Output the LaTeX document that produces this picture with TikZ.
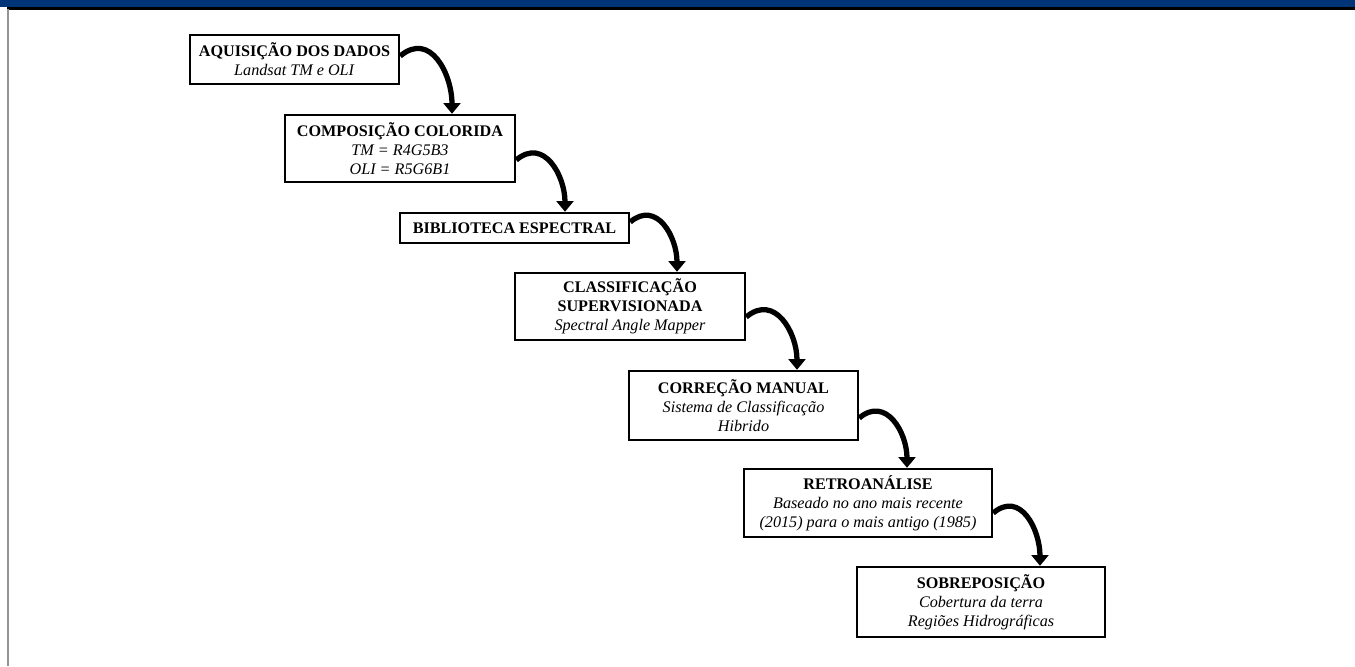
\documentclass[tikz,border=0pt]{standalone}
\usepackage{fontspec}
\setmainfont{Liberation Serif}
\usetikzlibrary{arrows.meta}
\definecolor{barblue}{RGB}{0,52,120}

\begin{document}
\begin{tikzpicture}[x=0.02cm,y=0.02cm,
	etapa/.style={draw,line width=1.4pt,fill=white,inner sep=0pt,align=center,
		font=\fontsize{9.2}{10.8}\selectfont},
	seta/.style={line width=3pt,-{Triangle[width=9.5pt,length=6pt]},out=40,in=90,looseness=1.3}]
	\useasboundingbox (0,0) rectangle (1355,-666);
	
	%frame
	\fill[barblue] (0,0) rectangle (1355,-6.5);
	\draw[line width=1.2pt] (7,-8.5)--(1355,-8.5);
	\draw[line width=1.6pt,gray!85] (8,-9)--(8,-666);
	
	%steps
	\node[etapa,minimum width=4.18cm,minimum height=0.98cm] (aquis) at (294.5,-59.5)
		{\textbf{AQUISIÇÃO DOS DADOS}\\\textit{Landsat TM e OLI}};
	\node[etapa,minimum width=4.6cm,minimum height=1.34cm] (compos) at (400,-148.5)
		{\textbf{COMPOSIÇÃO COLORIDA}\\\textit{TM = R4G5B3}\\\textit{OLI = R5G6B1}};
	\node[etapa,minimum width=4.58cm,minimum height=0.6cm] (biblio) at (514.5,-228)
		{\textbf{BIBLIOTECA ESPECTRAL}};
	\node[etapa,minimum width=4.6cm,minimum height=1.34cm] (classif) at (630,-306.5)
		{\textbf{CLASSIFICAÇÃO}\\\textbf{SUPERVISIONADA}\\\textit{Spectral Angle Mapper}};
	\node[etapa,minimum width=4.58cm,minimum height=1.38cm] (correc) at (743.5,-405.5)
		{\textbf{CORREÇÃO MANUAL}\\\textit{Sistema de Classificação}\\\textit{Hibrido}};
	\node[etapa,minimum width=4.96cm,minimum height=1.36cm] (retro) at (868,-503)
		{\textbf{RETROANÁLISE}\\\textit{Baseado no ano mais recente}\\\textit{(2015) para o mais antigo (1985)}};
	\node[etapa,minimum width=4.96cm,minimum height=1.4cm] (sobrep) at (981,-602)
		{\textbf{SOBREPOSIÇÃO}\\\textit{Cobertura da terra}\\\textit{Regiões Hidrográficas}};
	
	%curved arrows
	\draw[seta] ([yshift=0.07cm]aquis.east) to ([xshift=1.04cm]compos.north);
	\draw[seta] ([yshift=-0.23cm]compos.east) to ([xshift=1.01cm]biblio.north);
	\draw[seta] ([yshift=0.12cm]biblio.east) to ([xshift=0.94cm]classif.north);
	\draw[seta] ([yshift=-0.21cm]classif.east) to ([xshift=1.07cm]correc.north);
	\draw[seta] ([yshift=-0.25cm]correc.east) to ([xshift=0.78cm]retro.north);
	\draw[seta] ([yshift=-0.2cm]retro.east) to ([xshift=1.18cm]sobrep.north);
\end{tikzpicture}
\end{document}
